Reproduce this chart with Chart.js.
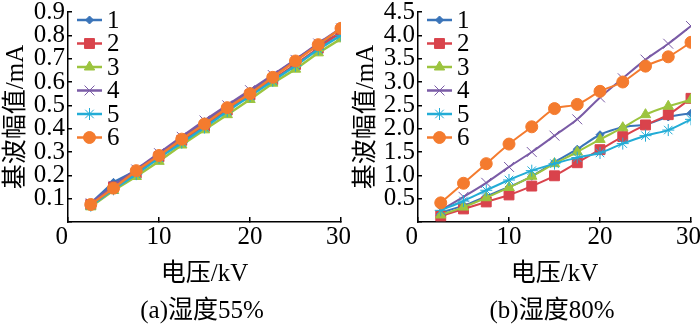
<!DOCTYPE html>
<html>
<head>
<meta charset="utf-8">
<script src="https://cdn.jsdelivr.net/npm/chart.js@4/dist/chart.umd.min.js"></script>
<style>
  body { margin: 0; background: #fff; }
  .wrap { display: flex; width: 700px; height: 324px; }
  canvas { display: block; }
</style>
</head>
<body>
<div class="wrap">
  <canvas id="chartA" width="350" height="324"></canvas>
  <canvas id="chartB" width="350" height="324"></canvas>
</div>
<script>
// x values (kV)
const voltage = [2.5, 5, 7.5, 10, 12.5, 15, 17.5, 20, 22.5, 25, 27.5, 30];
const seriesNames = ['1', '2', '3', '4', '5', '6'];

// (a) humidity 55%
const a1 = [0.08, 0.17, 0.22, 0.29, 0.36, 0.43, 0.495, 0.56, 0.625, 0.695, 0.76, 0.81];
const a2 = [0.075, 0.15, 0.21, 0.28, 0.35, 0.41, 0.48, 0.545, 0.61, 0.675, 0.745, 0.815];
const a3 = [0.065, 0.135, 0.195, 0.26, 0.33, 0.395, 0.46, 0.525, 0.595, 0.655, 0.725, 0.785];
const a4 = [0.08, 0.155, 0.225, 0.295, 0.365, 0.435, 0.5, 0.565, 0.63, 0.695, 0.765, 0.83];
const a5 = [0.07, 0.14, 0.205, 0.275, 0.34, 0.405, 0.475, 0.54, 0.605, 0.67, 0.74, 0.80];
const a6 = [0.075, 0.145, 0.22, 0.285, 0.355, 0.42, 0.49, 0.55, 0.62, 0.69, 0.76, 0.83];

// (b) humidity 80%
const b1 = [0.2, 0.35, 0.55, 0.75, 0.98, 1.28, 1.56, 1.87, 2.03, 2.09, 2.25, 2.33];
const b2 = [0.13, 0.28, 0.43, 0.58, 0.77, 0.99, 1.27, 1.55, 1.83, 2.08, 2.3, 2.65];
const b3 = [0.15, 0.32, 0.52, 0.74, 0.98, 1.25, 1.5, 1.77, 2.02, 2.3, 2.48, 2.62];
const b4 = [0.25, 0.54, 0.84, 1.18, 1.5, 1.85, 2.2, 2.67, 3.08, 3.48, 3.82, 4.2];
const b5 = [0.25, 0.45, 0.68, 0.9, 1.1, 1.25, 1.38, 1.48, 1.68, 1.85, 1.97, 2.2];
const b6 = [0.41, 0.83, 1.25, 1.67, 2.04, 2.43, 2.52, 2.8, 3.0, 3.34, 3.54, 3.85];

const colors = ['#3a74b9', '#d9434c', '#9cc43f', '#7a5ba6', '#22acd6', '#f47b2e'];
const markers = ['rectRot', 'rect', 'triangle', 'crossRot', 'star', 'circle'];
const radii = [4, 7, 6, 7, 6, 6];

const FONT = "'Liberation Serif', 'Noto Sans CJK SC', serif";
const FS = 25;
Chart.defaults.font.family = FONT;
Chart.defaults.color = '#000';

function makeDatasets(list, tension, lw) {
  return list.map((vals, i) => ({
    label: seriesNames[i],
    data: vals.map((v, j) => ({ x: voltage[j], y: v })),
    borderColor: colors[i],
    backgroundColor: colors[i],
    pointBackgroundColor: colors[i],
    pointBorderColor: colors[i],
    pointBorderWidth: 1,
    borderWidth: lw,
    pointStyle: markers[i],
    pointRadius: radii[i],
    tension: tension,
    order: 6 - i
  }));
}

// legend drawn inside the plot area + caption under the chart
const insideLegend = {
  id: 'insideLegend',
  afterDraw(chart, args, opts) {
    const ctx = chart.ctx;
    const area = chart.chartArea;
    ctx.save();
    chart.data.datasets.forEach((ds, i) => {
      const y = area.top + 8 + 23.5 * i;
      const x0 = area.left + 9, x1 = area.left + 34;
      ctx.strokeStyle = ds.borderColor;
      ctx.lineWidth = 2.5;
      ctx.beginPath();
      ctx.moveTo(x0, y);
      ctx.lineTo(x1, y);
      ctx.stroke();
      ctx.fillStyle = ds.pointBackgroundColor;
      ctx.strokeStyle = ds.pointBorderColor;
      ctx.lineWidth = 1;
      Chart.helpers.drawPoint(ctx, { pointStyle: ds.pointStyle, radius: ds.pointRadius, borderWidth: 1, rotation: 0 }, (x0 + x1) / 2, y);
      ctx.fillStyle = '#000';
      ctx.font = FS + 'px ' + FONT;
      ctx.textAlign = 'left';
      ctx.textBaseline = 'middle';
      ctx.fillText(ds.label, x1 + 5, y + 1);
    });
    ctx.fillStyle = '#000';
    ctx.font = FS + 'px ' + FONT;
    ctx.textAlign = 'center';
    ctx.textBaseline = 'middle';
    ctx.fillText(opts.caption, 202, 311);
    ctx.restore();
  }
};

// x tick text: the end labels sit slightly left of their ticks
function xTick(v) {
  if (v === 0) return '0\u2002';
  if (v === 30) return '30\u2009';
  return String(v);
}

function makeChart(id, list, yMax, yStep, tension, lw, caption) {
  return new Chart(document.getElementById(id), {
    type: 'line',
    data: { datasets: makeDatasets(list, tension, lw) },
    options: {
      responsive: false,
      animation: false,
      layout: { padding: { top: 12, right: 9, bottom: 30, left: 0 } },
      plugins: {
        legend: { display: false },
        tooltip: { enabled: false },
        insideLegend: { caption: caption }
      },
      scales: {
        x: {
          type: 'linear',
          min: 0,
          max: 30,
          ticks: { stepSize: 10, padding: 5, font: { size: FS }, maxRotation: 0, autoSkip: false, callback: xTick },
          grid: { drawOnChartArea: false, tickLength: -5, color: '#000', lineWidth: 1.5 },
          border: { color: '#000', width: 1.5 },
          title: { display: true, text: '电压/kV', font: { size: FS }, padding: { top: 0, bottom: 5 } },
          afterFit: s => { s.height = 72; s.paddingLeft = 0; s.paddingRight = 0; }
        },
        y: {
          min: 0,
          max: yMax,
          ticks: {
            stepSize: yStep,
            padding: 7,
            autoSkip: false,
            font: { size: FS },
            callback: v => (v === 0 ? '' : v.toFixed(1))
          },
          grid: { drawOnChartArea: false, tickLength: -4, color: '#000', lineWidth: 1.5 },
          border: { color: '#000', width: 1.5 },
          title: { display: true, text: '基波幅值/mA', font: { size: FS }, padding: { top: 1, bottom: 0 } },
          afterFit: s => { s.width = 68; s.paddingTop = 0; s.paddingBottom = 0; }
        }
      }
    },
    plugins: [insideLegend]
  });
}

makeChart('chartA', [a1, a2, a3, a4, a5, a6], 0.9, 0.1, 0, 2.5, '(a)湿度55%');
makeChart('chartB', [b1, b2, b3, b4, b5, b6], 4.5, 0.5, 0.3, 2, '(b)湿度80%');
</script>
</body>
</html>
